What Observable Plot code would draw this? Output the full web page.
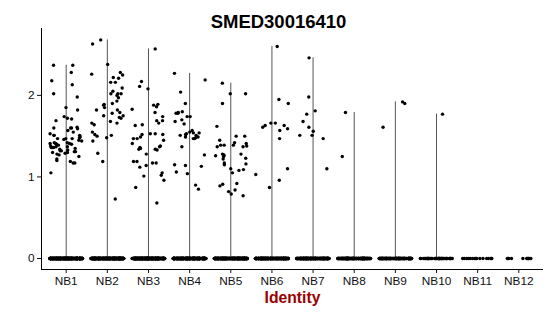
<!DOCTYPE html>
<html>
<head>
<meta charset="utf-8">
<script src="https://cdn.jsdelivr.net/npm/d3@7"></script>
<script src="https://cdn.jsdelivr.net/npm/@observablehq/plot@0.6"></script>
<style>
  html, body { margin: 0; padding: 0; background: #fff; }
  #chart { width: 550px; height: 316px; }
</style>
</head>
<body>
<div id="chart"></div>
<script>
// ---- data ----
const title = "SMED30016410";
const xTitle = "Identity";
const categories = ["NB1","NB2","NB3","NB4","NB5","NB6","NB7","NB8","NB9","NB10","NB11","NB12"];
const yTicks = [0, 1, 2];

// non-zero expression values per identity
const exprNB1 = [2.37,2.37,2.28,2.18,2.13,2.02,1.98,1.85,1.82,1.74,1.71,1.72,1.69,1.60,1.53,1.60,1.59,1.57,1.60,1.61,
  1.55,1.49,1.47,1.51,1.45,1.48,1.51,1.47,1.51,1.47,1.42,1.41,1.41,1.40,1.41,1.40,1.37,1.38,1.35,1.37,
  1.36,1.36,1.32,1.30,1.29,1.31,1.32,1.31,1.33,1.25,1.27,1.28,1.22,1.17,1.17,1.19,1.05,1.44,1.39,1.34,
  1.46,1.30,1.36,1.42,1.20];
const exprNB2 = [2.68,2.63,2.38,2.28,2.26,2.22,2.25,2.21,2.16,2.16,2.09,2.05,2.02,2.02,2.02,1.97,1.88,1.93,1.89,1.90,
  1.82,1.82,1.79,1.75,1.75,1.73,1.72,1.68,1.66,1.66,1.64,1.55,1.51,1.52,1.48,1.50,1.44,1.29,1.19,0.73,
  1.78,1.85,2.00];
const exprNB3 = [2.57,2.17,2.11,2.08,1.89,1.88,1.86,1.83,1.79,1.74,1.69,1.66,1.63,1.69,1.64,1.47,1.45,1.49,1.52,1.52,
  1.53,1.53,1.47,1.41,1.36,1.37,1.35,1.34,1.34,1.33,1.38,1.28,1.17,1.19,1.14,1.12,1.17,1.19,1.05,1.01,
  1.02,0.96,0.87,0.68];
const exprNB4 = [2.27,2.19,2.04,1.90,1.80,1.79,1.78,1.74,1.74,1.70,1.68,1.65,1.57,1.54,1.54,1.53,1.52,1.51,1.49,1.47,
  1.51,1.48,1.47,1.37,1.27,1.14,1.13,1.15,1.06,1.04,0.90,0.85,1.78,1.55,1.49];
const exprNB5 = [2.15,2.02,1.90,1.62,1.50,1.50,1.45,1.41,1.42,1.37,1.37,1.39,1.39,1.39,1.38,1.28,1.23,1.26,1.25,1.28,
  1.26,1.27,1.22,1.16,1.17,1.09,1.08,1.05,1.10,0.92,0.91,0.89,0.84,0.77,0.82,0.79,2.02,1.15];
const exprNB6 = [2.60,1.95,1.90,1.63,1.61,1.66,1.66,1.63,1.59,1.57,1.47,1.03,1.10,0.96,0.87];
const exprNB7 = [2.46,1.98,1.81,1.77,1.68,1.61,1.56,1.51,1.51,1.47,1.10];
const exprNB8 = [1.79,1.25];
const exprNB9 = [1.90,1.92,1.61];
const exprNB10 = [1.77];
const exprNB11 = [];
const exprNB12 = [];
// number of cells with zero expression per identity
const zeroCounts = [300,300,300,260,260,220,200,160,130,45,16,11];

const groups = [exprNB1,exprNB2,exprNB3,exprNB4,exprNB5,exprNB6,exprNB7,exprNB8,exprNB9,exprNB10,exprNB11,exprNB12];

// ---- build table (jitter like ggplot's geom_jitter, seeded) ----
const jitter = d3.randomUniform.source(d3.randomLcg(0.1234))(-0.4, 0.4);
const cells = [];
groups.forEach((vals, i) => {
  for (let k = 0; k < zeroCounts[i]; k++) cells.push({g: i + 1, v: 0, x: i + 1 + jitter()});
  vals.forEach(v => cells.push({g: i + 1, v, x: i + 1 + jitter()}));
});
const violins = groups.map((vals, i) => ({g: i + 1, max: d3.max(vals) ?? 0})).filter(d => d.max > 0);

const xDomain = [0.4, categories.length + 0.6];
const yDomain = [-0.135, 2.82];

const chart = Plot.plot({
  width: 550,
  height: 316,
  marginTop: 28,
  marginBottom: 47,
  marginLeft: 41,
  marginRight: 7,
  style: {fontFamily: "'Liberation Sans', Arial, sans-serif", fontSize: "11.8px", color: "#111", background: "#fff"},
  x: {domain: xDomain},
  y: {domain: yDomain},
  marks: [
    Plot.ruleX(violins, {x: "g", y1: 0, y2: "max", stroke: "#555", strokeWidth: 1}),
    Plot.dot(cells, {x: "x", y: "v", r: 1.7, fill: "#000", stroke: null}),
    Plot.ruleY([yDomain[0]], {stroke: "#000", strokeWidth: 1}),
    Plot.ruleX([xDomain[0]], {stroke: "#000", strokeWidth: 1}),
    Plot.axisY({ticks: yTicks, tickSize: 4, tickPadding: 3, label: null, tickFormat: d => String(d)}),
    Plot.axisX({ticks: categories.map((c, i) => i + 1), tickFormat: i => categories[i - 1], tickSize: 4, tickPadding: 3, label: null}),
    Plot.text([xTitle], {frameAnchor: "bottom", dy: 33, fontWeight: "bold", fontSize: 15.7, fill: "#9b0000"}),
    Plot.text([title], {frameAnchor: "top", dy: -13.5, dx: -14, fontWeight: "bold", fontSize: 18.5, fill: "#000"})
  ]
});
document.getElementById("chart").append(chart);
</script>
</body>
</html>
